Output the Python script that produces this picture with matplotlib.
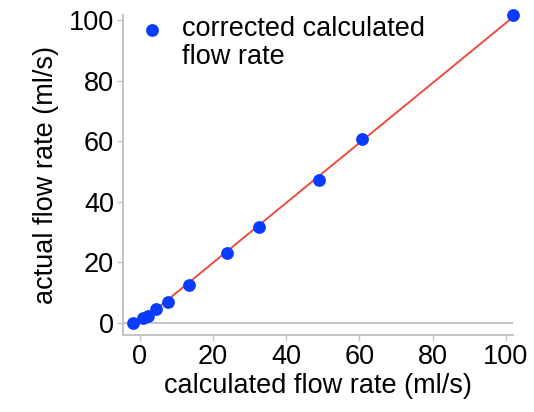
import numpy as np
import matplotlib
matplotlib.use("Agg")
import matplotlib.pyplot as plt

plt.rcParams['font.family'] = ['Liberation Sans', 'DejaVu Sans']

calc_flow = [-1.8, 0.9, 2.3, 4.5, 7.7, 13.4, 23.7, 32.6, 48.9, 60.7, 102.0]
actual_flow = [0.1, 1.5, 2.4, 4.5, 7.0, 12.6, 23.2, 31.6, 47.3, 60.8, 101.8]
xticks = [0, 20, 40, 60, 80, 100]
yticks = [0, 20, 40, 60, 80, 100]
legend_label = "corrected calculated\nflow rate"
xlabel = "calculated flow rate (ml/s)"
ylabel = "actual flow rate (ml/s)"

gray = '#c4c4c4'
blue = '#0a3cff'
fs = 19.5
fig = plt.figure(figsize=(5.34, 4.12), dpi=100)
ax = fig.add_axes([0.2303, 0.1869, 0.7304, 0.7767])

# fit line
x = np.array(calc_flow)
y = np.array(actual_flow)
m, b = np.polyfit(x, y, 1)
xl = np.array([x.min(), x.max()])
ax.plot(xl, m * xl + b, color='#f04a40', lw=1.4, zorder=2, clip_on=False)
ax.axhline(0, color=gray, lw=1.4, zorder=1)
ax.scatter(x, y, s=85, color=blue, zorder=3, linewidths=0, clip_on=False)

ax.set_xlim(-4.6, 102)
ax.set_ylim(-4, 101.8)
ax.set_xticks(xticks)
ax.set_yticks(yticks)
for s in ['top', 'right']:
    ax.spines[s].set_visible(False)
for s in ['left', 'bottom']:
    ax.spines[s].set_color(gray)
    ax.spines[s].set_linewidth(1.4)
ax.tick_params(axis='both', colors=gray, labelcolor='black', labelsize=fs,
               length=4.5, width=1.0, pad=2)
ax.set_xlabel(xlabel, fontsize=fs, labelpad=2)
ax.set_ylabel(ylabel, fontsize=fs, labelpad=7)

# legend (marker aligned with first line of label)
ax.scatter([0.0736], [0.953], s=85, color=blue, linewidths=0,
           transform=ax.transAxes, clip_on=False, zorder=4)
ax.text(0.1505, 0.997, legend_label, transform=ax.transAxes, fontsize=fs,
        ha='left', va='top', linespacing=1.12)

fig.savefig('out.png', dpi=100)
